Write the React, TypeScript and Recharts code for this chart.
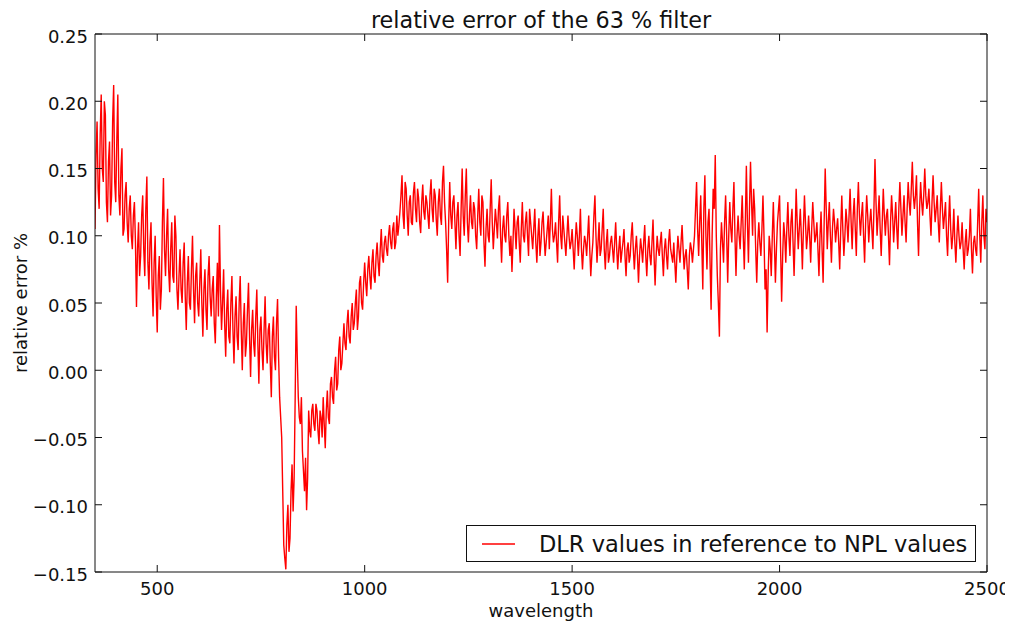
import React from 'react';
import { LineChart, Line, XAxis, YAxis, Legend, Label } from 'recharts';

// wavelength grid (nm): 350 .. 2500 in 2.5 nm steps
const wavelengthStart = 350;
const wavelengthStep = 2.5;

// relative error %, segment by segment
const errUV = [
  0.105, 0.16, 0.185, 0.135, 0.12, 0.175, 0.205, 0.15, 0.14, 0.2, 0.19, 0.125, 0.11, 0.155, 0.17, 0.115, 0.13, 0.185, 0.212, 0.14,
  0.125, 0.17, 0.205, 0.13, 0.115, 0.15, 0.165, 0.1, 0.105, 0.13, 0.14, 0.11, 0.095, 0.12, 0.13, 0.1, 0.09, 0.115, 0.125, 0.095,
  0.047, 0.09, 0.11, 0.07, 0.085, 0.115, 0.13, 0.09, 0.07, 0.12, 0.144, 0.08, 0.06, 0.095, 0.11, 0.065, 0.04, 0.08, 0.1, 0.055,
  0.028, 0.07, 0.085, 0.045, 0.06, 0.11, 0.143, 0.09, 0.07, 0.1, 0.12, 0.075, 0.058, 0.09, 0.11, 0.07, 0.065, 0.115, 0.1, 0.06,
  0.045, 0.07, 0.09, 0.06, 0.05, 0.08, 0.095, 0.055, 0.03, 0.065, 0.085, 0.05, 0.045, 0.075, 0.1, 0.06, 0.035, 0.07, 0.08, 0.05,
  0.04, 0.065, 0.09, 0.05, 0.025, 0.06, 0.075, 0.045, 0.03, 0.07, 0.085, 0.055, 0.04, 0.06, 0.07, 0.035, 0.02, 0.055, 0.08, 0.04,
  0.108, 0.06, 0.03, 0.05, 0.075, 0.035, 0.01, 0.045, 0.06, 0.025, 0.02, 0.05, 0.07, 0.03, 0.005, 0.04, 0.055, 0.025, 0.015, 0.05,
  0.07, 0.03, 0.0, 0.035, 0.05, 0.01, 0.02, 0.045, 0.065, 0.025, -0.005, 0.03, 0.045, 0.02, 0.01, 0.04, 0.06, 0.02, -0.01, 0.03,
  0.04, 0.015, 0.0, 0.03, 0.055, 0.02, 0.005, 0.03, 0.035, 0.005, -0.02, 0.025, 0.04, 0.01, 0.0, 0.035, 0.053, 0.01, -0.02, -0.035,
];

const errDip = [
  -0.05, -0.09, -0.13, -0.14, -0.148, -0.115, -0.1, -0.135, -0.125, -0.09, -0.07, -0.105, -0.08, -0.02, 0.048, 0.01, -0.02, -0.035, -0.04, -0.02,
  -0.06, -0.075, -0.09, -0.065, -0.104, -0.08, -0.03, -0.045, -0.05, -0.03, -0.025, -0.04, -0.045, -0.025, -0.03, -0.045, -0.055, -0.03, -0.035, -0.05,
  -0.02, -0.04, -0.058, -0.03, -0.015, -0.035, -0.04, -0.01, -0.005, -0.02, -0.025, 0.0, 0.01, -0.015, -0.01, 0.015, 0.025, 0.0, 0.005, 0.02,
  0.035, 0.02, 0.015, 0.035, 0.045, 0.025, 0.02, 0.04, 0.05, 0.03, 0.035, 0.05, 0.06, 0.03, 0.04, 0.065, 0.07, 0.05, 0.045, 0.065,
];

const errVis = [
  0.08, 0.065, 0.055, 0.075, 0.085, 0.07, 0.06, 0.08, 0.09, 0.07, 0.065, 0.085, 0.095, 0.08, 0.07, 0.09, 0.105, 0.085, 0.08, 0.095,
  0.1, 0.09, 0.085, 0.1, 0.108, 0.095, 0.09, 0.105, 0.11, 0.09, 0.095, 0.115, 0.1, 0.108, 0.118, 0.13, 0.145, 0.115, 0.105, 0.14,
  0.135, 0.115, 0.1, 0.125, 0.13, 0.11, 0.108, 0.132, 0.14, 0.12, 0.11, 0.135, 0.128, 0.11, 0.102, 0.125, 0.138, 0.118, 0.112, 0.13,
  0.125, 0.115, 0.105, 0.13, 0.142, 0.12, 0.11, 0.135, 0.13, 0.112, 0.1, 0.125, 0.135, 0.115, 0.108, 0.14, 0.152, 0.125, 0.11, 0.09,
  0.065, 0.11, 0.14, 0.115, 0.105, 0.125, 0.13, 0.11, 0.09, 0.115, 0.125, 0.1, 0.085, 0.12, 0.15, 0.115, 0.1, 0.13, 0.15, 0.11,
  0.095, 0.115, 0.13, 0.11, 0.105, 0.125, 0.12, 0.1, 0.09, 0.115, 0.135, 0.11, 0.1, 0.13, 0.125, 0.095, 0.077, 0.105, 0.12, 0.1,
  0.095, 0.12, 0.142, 0.11, 0.09, 0.105, 0.12, 0.11, 0.098, 0.12, 0.13, 0.1, 0.08, 0.105, 0.115, 0.1, 0.095, 0.115, 0.125, 0.1,
  0.085, 0.1, 0.073, 0.095, 0.12, 0.105, 0.09, 0.11, 0.115, 0.095, 0.08, 0.105, 0.125, 0.1, 0.095, 0.11, 0.118, 0.1, 0.085, 0.12,
  0.11, 0.1, 0.09, 0.105, 0.12, 0.095, 0.08, 0.1, 0.113, 0.085, 0.095, 0.11, 0.118, 0.1, 0.085, 0.095, 0.105, 0.115, 0.09, 0.11,
  0.135, 0.105, 0.095, 0.1, 0.11, 0.095, 0.08, 0.11, 0.13, 0.1, 0.09, 0.115, 0.105, 0.095, 0.085, 0.1, 0.115, 0.1, 0.09, 0.095,
];

const errNIR1 = [
  0.105, 0.09, 0.075, 0.095, 0.11, 0.1, 0.085, 0.1, 0.12, 0.09, 0.075, 0.09, 0.1, 0.095, 0.085, 0.1, 0.115, 0.09, 0.07, 0.085,
  0.095, 0.115, 0.13, 0.1, 0.08, 0.095, 0.11, 0.085, 0.09, 0.105, 0.12, 0.09, 0.075, 0.095, 0.105, 0.08, 0.085, 0.095, 0.1, 0.09,
  0.08, 0.095, 0.11, 0.09, 0.075, 0.09, 0.1, 0.08, 0.088, 0.095, 0.105, 0.085, 0.07, 0.09, 0.095, 0.08, 0.085, 0.1, 0.11, 0.09,
  0.075, 0.09, 0.1, 0.085, 0.065, 0.085, 0.098, 0.09, 0.08, 0.095, 0.108, 0.085, 0.07, 0.09, 0.1, 0.085, 0.078, 0.095, 0.112, 0.085,
  0.063, 0.085, 0.1, 0.09, 0.085, 0.095, 0.103, 0.085, 0.07, 0.09, 0.098, 0.085, 0.075, 0.095, 0.105, 0.09, 0.085, 0.08, 0.095, 0.08,
  0.065, 0.085, 0.1, 0.09, 0.08, 0.095, 0.108, 0.09, 0.075, 0.085, 0.09, 0.075, 0.06, 0.085, 0.095, 0.09, 0.08, 0.09, 0.1, 0.12,
  0.14, 0.105, 0.085, 0.11, 0.13, 0.095, 0.06, 0.12, 0.145, 0.1, 0.075, 0.11, 0.12, 0.08, 0.045, 0.1, 0.135, 0.12, 0.16, 0.1,
  0.07, 0.05, 0.025, 0.09, 0.11, 0.095, 0.08, 0.11, 0.13, 0.1, 0.065, 0.1, 0.125, 0.105, 0.095, 0.12, 0.14, 0.1, 0.07, 0.1,
  0.115, 0.1, 0.09, 0.11, 0.13, 0.1, 0.075, 0.11, 0.152, 0.11, 0.08, 0.12, 0.155, 0.125, 0.1, 0.135, 0.12, 0.09, 0.065, 0.095,
  0.11, 0.095, 0.085, 0.105, 0.13, 0.1, 0.06, 0.075, 0.028, 0.07, 0.1, 0.09, 0.07, 0.1, 0.125, 0.095, 0.065, 0.09, 0.11, 0.12,
];

const errNIR2 = [
  0.13, 0.09, 0.051, 0.085, 0.11, 0.1, 0.08, 0.105, 0.125, 0.1, 0.085, 0.11, 0.12, 0.095, 0.07, 0.1, 0.135, 0.11, 0.09, 0.105,
  0.12, 0.1, 0.075, 0.105, 0.13, 0.11, 0.09, 0.1, 0.115, 0.1, 0.08, 0.105, 0.125, 0.11, 0.095, 0.1, 0.11, 0.09, 0.07, 0.1,
  0.118, 0.09, 0.065, 0.11, 0.15, 0.12, 0.09, 0.11, 0.125, 0.1, 0.08, 0.105, 0.12, 0.11, 0.095, 0.105, 0.113, 0.095, 0.075, 0.105,
  0.13, 0.105, 0.085, 0.1, 0.12, 0.11, 0.095, 0.115, 0.135, 0.11, 0.09, 0.115, 0.128, 0.105, 0.085, 0.12, 0.14, 0.115, 0.1, 0.115,
  0.125, 0.1, 0.08, 0.11, 0.13, 0.115, 0.095, 0.11, 0.12, 0.105, 0.09, 0.12, 0.157, 0.125, 0.1, 0.115, 0.13, 0.105, 0.085, 0.11,
  0.135, 0.115, 0.1, 0.115, 0.12, 0.1, 0.078, 0.11, 0.13, 0.115, 0.095, 0.11, 0.125, 0.105, 0.09, 0.12, 0.14, 0.12, 0.1, 0.115,
  0.13, 0.11, 0.095, 0.12, 0.14, 0.125, 0.115, 0.135, 0.155, 0.13, 0.12, 0.13, 0.145, 0.11, 0.085, 0.12, 0.14, 0.125, 0.115, 0.13,
  0.15, 0.13, 0.12, 0.125, 0.135, 0.115, 0.1, 0.125, 0.145, 0.125, 0.11, 0.12, 0.13, 0.11, 0.095, 0.12, 0.14, 0.12, 0.105, 0.115,
  0.125, 0.1, 0.085, 0.11, 0.13, 0.105, 0.09, 0.1, 0.12, 0.095, 0.08, 0.1, 0.115, 0.1, 0.09, 0.095, 0.11, 0.09, 0.075, 0.095,
  0.105, 0.085, 0.09, 0.1, 0.12, 0.09, 0.072, 0.095, 0.1, 0.09, 0.085, 0.11, 0.135, 0.1, 0.08, 0.11, 0.13, 0.1, 0.09, 0.12, 0.11,
];

const xTicks = [500, 1000, 1500, 2000, 2500];
const yTicks = [-0.15, -0.1, -0.05, 0.0, 0.05, 0.1, 0.15, 0.2, 0.25];

const titleText = 'relative error of the 63 % filter';
const xLabelText = 'wavelength';
const yLabelText = 'relative error %';
const seriesName = 'DLR values in reference to NPL values';

const allErr = [...errUV, ...errDip, ...errVis, ...errNIR1, ...errNIR2];
const data = allErr.map((v, i) => ({ wl: wavelengthStart + i * wavelengthStep, err: v }));

const FONT = 'DejaVu Sans';
const TICK_LEN = 7;
const INK = '#111';

const fmtY = (v: number) => v.toFixed(2).replace('-', '\u2212');

const BottomTick = (props: any) => {
  const { x, y, payload } = props;
  return (
    <g>
      <line x1={x} y1={y} x2={x} y2={y - TICK_LEN} stroke={INK} strokeWidth={1} />
      <text x={x} y={y + 23} textAnchor="middle" fontSize={18} fontFamily={FONT} fill={INK}>
        {payload.value}
      </text>
    </g>
  );
};

const TopTick = (props: any) => {
  const { x, y } = props;
  return <line x1={x} y1={y} x2={x} y2={y + TICK_LEN} stroke={INK} strokeWidth={1} />;
};

const LeftTick = (props: any) => {
  const { x, y, payload } = props;
  return (
    <g>
      <line x1={x} y1={y} x2={x + TICK_LEN} y2={y} stroke={INK} strokeWidth={1} />
      <text x={x - 7} y={y + 8.6} textAnchor="end" fontSize={18} fontFamily={FONT} fill={INK}>
        {fmtY(payload.value)}
      </text>
    </g>
  );
};

const RightTick = (props: any) => {
  const { x, y } = props;
  return <line x1={x} y1={y} x2={x - TICK_LEN} y2={y} stroke={INK} strokeWidth={1} />;
};

const LegendBox = () => (
  <div
    style={{
      boxSizing: 'border-box',
      width: 510,
      height: 37,
      border: '1px solid #111',
      background: '#fff',
      display: 'flex',
      alignItems: 'center',
      fontFamily: FONT,
      fontSize: 22.5,
      color: INK,
      whiteSpace: 'nowrap',
    }}
  >
    <svg width={72} height={20} style={{ display: 'block', flex: '0 0 auto' }}>
      <line x1={15} y1={10} x2={48} y2={10} stroke="#ff0000" strokeWidth={1.4} />
    </svg>
    <span style={{ lineHeight: '22px' }}>{seriesName}</span>
  </div>
);

export default function App() {
  return (
    <LineChart
      width={1005}
      height={617}
      data={data}
      margin={{ top: 25, right: 25, left: 7, bottom: 0 }}
      style={{ fontFamily: FONT }}
    >
      <XAxis
        xAxisId="b"
        dataKey="wl"
        type="number"
        domain={[350, 2500]}
        allowDataOverflow
        ticks={xTicks}
        interval={0}
        height={53}
        tickSize={0}
        tickMargin={0}
        tickLine={false}
        axisLine={{ stroke: INK, strokeWidth: 1 }}
        tick={<BottomTick />}
      >
        <Label
          content={(p: any) => {
            const vb = p.viewBox;
            return (
              <text x={vb.x + vb.width / 2} y={vb.y + 45} textAnchor="middle" fontSize={18} fontFamily={FONT} fill={INK}>
                {xLabelText}
              </text>
            );
          }}
        />
      </XAxis>
      <XAxis
        xAxisId="t"
        orientation="top"
        dataKey="wl"
        type="number"
        domain={[350, 2500]}
        allowDataOverflow
        ticks={xTicks}
        interval={0}
        height={1}
        tickSize={0}
        tickMargin={0}
        tickLine={false}
        axisLine={{ stroke: INK, strokeWidth: 1 }}
        tick={<TopTick />}
      >
        <Label
          content={(p: any) => {
            const vb = p.viewBox;
            return (
              <text x={vb.x + vb.width / 2} y={vb.y + vb.height - 6} textAnchor="middle" fontSize={22.3} fontFamily={FONT} fill={INK}>
                {titleText}
              </text>
            );
          }}
        />
      </XAxis>
      <YAxis
        yAxisId="l"
        type="number"
        domain={[-0.15, 0.25]}
        allowDataOverflow
        ticks={yTicks}
        interval={0}
        width={80}
        tickSize={0}
        tickMargin={0}
        tickLine={false}
        axisLine={{ stroke: INK, strokeWidth: 1 }}
        tick={<LeftTick />}
      >
        <Label
          content={(p: any) => {
            const vb = p.viewBox;
            const cx = vb.x + 12;
            const cy = vb.y + vb.height / 2;
            return (
              <text
                x={cx}
                y={cy}
                transform={`rotate(-90, ${cx}, ${cy})`}
                textAnchor="middle"
                fontSize={18}
                fontFamily={FONT}
                fill={INK}
              >
                {yLabelText}
              </text>
            );
          }}
        />
      </YAxis>
      <YAxis
        yAxisId="r"
        orientation="right"
        type="number"
        domain={[-0.15, 0.25]}
        allowDataOverflow
        ticks={yTicks}
        interval={0}
        width={1}
        tickSize={0}
        tickMargin={0}
        tickLine={false}
        axisLine={{ stroke: INK, strokeWidth: 1 }}
        tick={<RightTick />}
      />
      <Legend
        layout="vertical"
        align="center"
        verticalAlign="middle"
        content={() => <LegendBox />}
        wrapperStyle={{ position: 'absolute', left: 458, top: 517, width: 510, height: 37 }}
      />
      <Line
        xAxisId="b"
        yAxisId="l"
        type="linear"
        dataKey="err"
        name={seriesName}
        stroke="#ff0000"
        strokeWidth={1.4}
        dot={false}
        activeDot={false}
        isAnimationActive={false}
      />
    </LineChart>
  );
}
